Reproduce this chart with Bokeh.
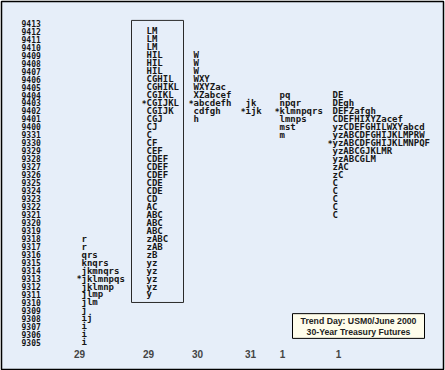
from bokeh.plotting import figure
from bokeh.models import Range1d
from bokeh.core.properties import value
from bokeh.embed import file_html
from bokeh.resources import INLINE

# ---- data ----
prices = ["9413", "9412", "9411", "9410", "9409", "9408", "9407", "9406", "9405",
          "9404", "9403", "9402", "9401", "9400",
          "9331", "9330", "9329", "9328", "9327", "9326", "9325", "9324", "9323",
          "9322", "9321", "9320", "9319", "9318", "9317", "9316", "9315", "9314",
          "9313", "9312", "9311", "9310", "9309", "9308", "9307", "9306", "9305"]

day_labels = ["29", "29", "30", "31", "1", "1"]

col_top = ["9318", "9412", "9409", "9403", "9404", "9404"]
col_poc = ["9313", "9403", "9403", "9402", "9402", "9330"]

tpo_1 = ["r", "r", "qrs", "knqrs", "jkmnqrs", "jklmnpqs", "jklmnp", "jlmp", "jlm",
         "j", "ij", "i", "i", "i"]
tpo_2 = ["LM", "LM", "LM", "HIL", "HIL", "HIL", "CGHIL", "CGHIKL", "CGIKL", "CGIJKL",
         "CGIJK", "CGJ", "CJ", "C", "CF", "CEF", "CDEF", "CDEF", "CDEF", "CDE", "CDE",
         "CD", "AC", "ABC", "ABC", "ABC", "zABC", "zAB", "zB", "yz", "yz", "yz", "yz", "y"]
tpo_3 = ["W", "W", "W", "WXY", "WXYZac", "XZabcef", "abcdefh", "cdfgh", "h"]
tpo_4 = ["jk", "ijk"]
tpo_5 = ["pq", "npqr", "klmnpqrs", "lmnps", "mst", "m"]
tpo_6 = ["DE", "DEgh", "DEFZafgh", "CDEFHIXYZacef", "yzCDEFGHILWXYabcd",
         "yzABCDFGHIJKLMPRW", "yzABCDFGHIJKLMNPQF", "yzABCGJKLMR", "yzABCGLM",
         "zAC", "zC", "C", "C", "C", "C", "C"]
tpo_cols = [tpo_1, tpo_2, tpo_3, tpo_4, tpo_5, tpo_6]

title_lines = ["Trend Day: USM0/June 2000", "30-Year Treasury Futures"]

# ---- layout ----
col_x = [81, 146, 193, 245, 279, 332]
label_x = [79, 148, 197, 250, 282, 338]
FONT = value("DejaVu Sans Mono")
INK = "#161616"

p = figure(width=445, height=370, output_backend="svg", toolbar_location=None,
           x_range=Range1d(1, 443), y_range=Range1d(43.4, -2.72),
           min_border_left=1, min_border_top=1, min_border_right=2, min_border_bottom=1)
p.axis.visible = False
p.grid.visible = False
p.background_fill_color = "#E6EEF9"
p.border_fill_color = "white"
p.outline_line_color = "black"
p.outline_line_width = 1.5

rows = list(range(len(prices)))

# price scale
p.text(x=[21] * len(prices), y=rows, text=prices, text_font=FONT,
       text_font_style="bold", text_font_size="8px", text_baseline="middle",
       text_align="left", text_color=INK)

# TPO columns
for cx, top, poc, col in zip(col_x, col_top, col_poc, tpo_cols):
    start = prices.index(top)
    ys = [start + i for i in range(len(col))]
    p.text(x=[cx] * len(col), y=ys, text=col, text_font=FONT,
           text_font_style="bold", text_font_size="9px", text_baseline="middle",
           text_align="left", text_color=INK)
    p.text(x=[cx], y=[prices.index(poc) + 0.15], text=["*"], text_font=FONT,
           text_font_style="bold", text_font_size="8px", text_baseline="middle",
           text_align="right", text_color=INK)

# box around the highlighted day
b_top = prices.index(col_top[1])
b_bot = b_top + len(tpo_2) - 1
p.quad(left=[col_x[1] - 15], right=[col_x[1] + 37], top=[b_top - 1.35],
       bottom=[b_bot + 1.0], fill_color=None, line_color="#2a2a2a", line_width=1)

# day labels
p.text(x=label_x, y=[41.45] * len(day_labels), text=day_labels,
       text_font=value("Liberation Sans"), text_font_size="10px",
       text_font_style="bold", text_baseline="middle",
       text_align="center", text_color="#444444")

# title box
p.quad(left=[292], right=[424], top=[36.4], bottom=[39.5], fill_color="#FFFDEB",
       line_color="black", line_width=1)
p.text(x=[358, 358], y=[37.3, 38.65], text=title_lines,
       text_font=value("Liberation Sans"), text_font_style="bold",
       text_font_size="8.7px", text_baseline="middle", text_align="center",
       text_color="#222222")

open("out.html", "w").write(file_html(p, INLINE))
